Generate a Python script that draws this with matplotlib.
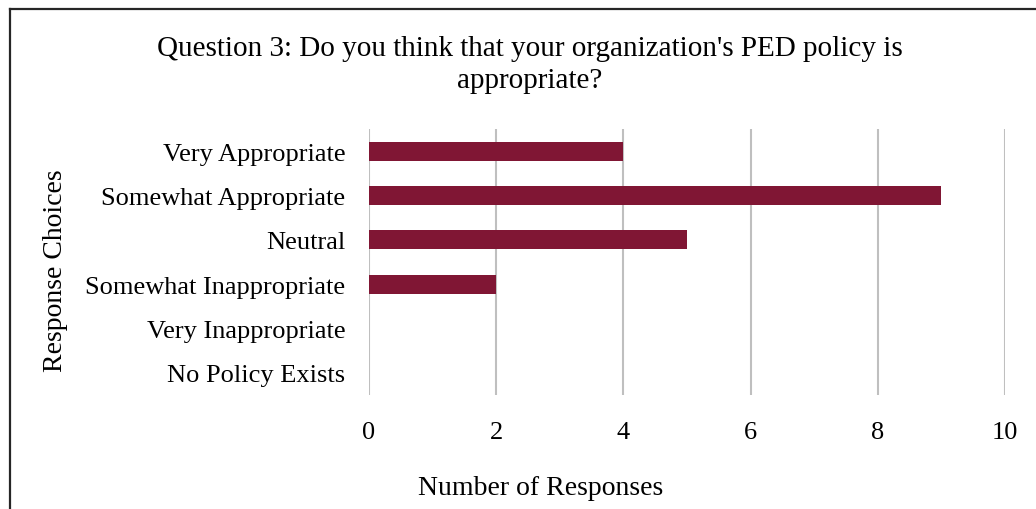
import matplotlib
matplotlib.use("Agg")
import matplotlib.pyplot as plt
from matplotlib.lines import Line2D

categories = ["Very Appropriate", "Somewhat Appropriate", "Neutral",
              "Somewhat Inappropriate", "Very Inappropriate", "No Policy Exists"]
values = [4, 9, 5, 2, 0, 0]
xticks = [0, 2, 4, 6, 8, 10]

plt.rcParams['font.family'] = ['Liberation Serif', 'DejaVu Serif']

W, H = 1036, 510
fig = plt.figure(figsize=(W/100, H/100), dpi=100)
ax = fig.add_axes([369/W, 1-396/H, (1005-369)/W, (396-130)/H])

ypos = list(range(len(categories)))
ax.barh(ypos, values, height=0.43, color='#801634', zorder=3)
ax.set_ylim(len(categories)-0.5, -0.5)
ax.set_yticks(ypos)
ax.set_yticklabels(categories, fontsize=19)
ax.set_xlim(0, 10)
ax.set_xticks(xticks)
ax.set_xticklabels([str(t) for t in xticks], fontsize=19)
ax.grid(axis='x', color='#BFBFBF', linewidth=1.5, zorder=0)
ax.grid(axis='y', visible=False)
for s in ax.spines.values():
    s.set_visible(False)
ax.tick_params(axis='both', length=0)
ax.tick_params(axis='y', pad=17)
ax.tick_params(axis='x', pad=19)

fig.text(530/W, 1-49/H, "Question 3: Do you think that your organization's PED policy is",
         ha='center', va='center', fontsize=21)
fig.text(530/W, 1-81/H, "appropriate?", ha='center', va='center', fontsize=21)
fig.text(55/W, 1-271/H, "Response Choices", rotation=90, ha='center', va='center', fontsize=20)
fig.text(541/W, 1-489/H, "Number of Responses", ha='center', va='center', fontsize=20)

# outer border (top and left visible)
fig.add_artist(Line2D([9.5/W, 1.0], [1-9.5/H, 1-9.5/H], transform=fig.transFigure,
                      color='#262626', linewidth=1.6))
fig.add_artist(Line2D([9.5/W, 9.5/W], [1-9.5/H, 0.0], transform=fig.transFigure,
                      color='#262626', linewidth=1.6))

fig.savefig("out.png", dpi=100)
